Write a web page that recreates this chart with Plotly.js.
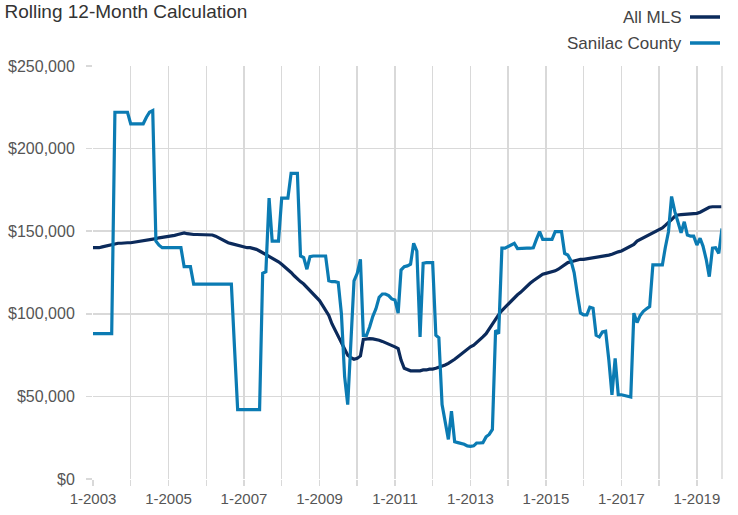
<!DOCTYPE html>
<html>
<head>
<meta charset="utf-8">
<script src="https://cdn.plot.ly/plotly-3.0.1.min.js"></script>
<style>html,body{margin:0;padding:0;background:#fff;}#chart{width:738px;height:515px;}</style>
</head>
<body>
<div id="chart"></div>
<script>
// Monthly series, January 2003 through September 2019
const startYear = 2003;
const seriesNames = ["All MLS", "Sanilac County"];
const allMLS = [
  140,140,140,140.5,141,141.5,142,142.5,142.7,142.7,143,143,
  143,143.3,143.5,144,144,144.5,145,145.3,145.5,146,146.3,146.5,
  146.5,147,147.5,148,148.5,149,148.5,148,148,148,148,148,
  148,148,147.7,147,146,145,144,143,142.5,142,141.5,141,
  140.5,140,140,139.7,139,138,137,136,135,134,133,131.5,
  130,128.5,127,125,123,121,119.5,118,116,114,112,110,
  108,105,102,99,94,90,86,82,78,75,73.5,72.5,
  73,74.5,84.5,85,85,84.8,84.5,84,83.3,82.5,82,81,
  80,79,72,67,66,65.5,65.5,65.5,65.5,66,66,66.5,
  66.5,67,67.5,68,69,70,71,72.5,74,75.5,77,78.5,
  80,81,82.5,84,86,88,91,94,97,99.5,102,104,
  106,108,110,111.5,113,115,117,118.5,120,121.5,123,124,
  124.5,125,125.5,126,127,128.5,130,131,131.5,132,132.5,133,
  133,133.3,133.6,133.8,134,134.2,134.5,135,135.5,136,137,137.5,
  138,139,140,140.5,142,144,145,146,147,148,149,149.7,
  151,152,153.5,155,157,159,159.8,160,160.2,160.4,160.5,160.6,
  160.8,161.5,162.5,163.5,164.5,164.8,164.8,164.8,164.8
];
const sanilac = [
  88,88,88,88,88,88,88,222,222,222,222,222,
  215,215,215,215,215,219,222,223,144,141.5,140,140,
  140,140,140,140,140,128.5,128.5,128.5,118,118,118,118,
  118,118,118,118,118,118,118,118,118,80,42,42,
  42,42,42,42,42,42,124.5,125.5,170,144,144,144,
  170,170,170,185,185,185,135,134,127,134.6,135,135,
  135,135,135,120,119.5,119.5,119,100,62,45,85,120,
  124.5,133,87,87,92,98.5,103,110,112,112,111,109,
  108.4,100.4,126.5,128.5,129,130,142.7,138,86,130.6,131,131,
  131,87,85.5,45,35,24,41,22.5,22,21.5,21,20,
  19.8,20.1,21.8,21.8,22,25.5,27,30,90,88,139.7,139.7,
  140.6,142,142.7,139.5,139.7,139.7,139.7,139.7,140,145,149.7,145,
  145,145,145,149.7,149.7,149.7,136.6,135.6,132,125,112,100.5,
  99.3,99.3,104,103.4,87,86,89,89.5,72,51,73,51,
  51,50.5,50,49.6,100.4,94.7,99,101.5,103,104.4,129.6,129.6,
  129.6,129.6,140,149.7,171,162,155.7,149,155.7,147.7,147,147,
  141.6,145.7,141,133,122.5,139.7,140,136.6,151.7
];
const tickYears = [2003,2004,2005,2006,2007,2008,2009,2010,2011,2012,2013,2014,2015,2016,2017,2018,2019];
const tickLabels = ["1-2003","","1-2005","","1-2007","","1-2009","","1-2011","","1-2013","","1-2015","","1-2017","","1-2019"];

function monthDates(n){
  const out=[];
  for(let i=0;i<n;i++){
    const y=startYear+Math.floor(i/12), m=(i%12)+1;
    out.push(y+"-"+String(m).padStart(2,"0")+"-01");
  }
  return out;
}
const dates = monthDates(allMLS.length);
const tickVals = tickYears.map(y=>y+"-01-01");

const colMLS = "#0b2a5b";
const colSan = "#0b7bb3";
const font = "Liberation Sans Narrow, Arial Narrow, Arial, sans-serif";

const traces = [
  {x: dates, y: allMLS.map(v=>v*1000), name: seriesNames[0], type:"scatter", mode:"lines",
   line:{color:colMLS, width:3.2}},
  {x: dates, y: sanilac.map(v=>v*1000), name: seriesNames[1], type:"scatter", mode:"lines",
   line:{color:colSan, width:3.2}}
];

const layout = {
  width:738, height:515,
  margin:{l:93, r:16, t:66, b:36},
  paper_bgcolor:"#fff", plot_bgcolor:"#fff",
  showlegend:false,
  title:{text:"Rolling 12-Month Calculation", x:0.006, xanchor:"left", y:0.978, yanchor:"middle",
         font:{family:font, size:19, color:"#333"}},
  xaxis:{type:"date", range:[dates[0], dates[dates.length-1]],
         tickvals:tickVals, ticktext:tickLabels,
         showgrid:true, gridcolor:"#d9d9d9", gridwidth:1.5,
         ticks:"outside", ticklen:6, tickcolor:"#d9d9d9", tickwidth:1.5,
         tickfont:{family:font, size:15, color:"#555"},
         showline:false, zeroline:false, fixedrange:true},
  yaxis:{range:[0,250000], dtick:50000, tickprefix:"$", tickformat:",.0f",
         showgrid:true, gridcolor:"#d9d9d9", gridwidth:1.5,
         ticks:"outside", ticklen:6, tickcolor:"#d9d9d9", tickwidth:1.5,
         ticklabelstandoff:8,
         tickfont:{family:font, size:16, color:"#555"},
         showline:false, zeroline:false, fixedrange:true},
  shapes:[
    {type:"line", xref:"paper", yref:"paper", x0:1, x1:1, y0:0, y1:1, line:{color:"#d9d9d9", width:1.5}},
    {type:"line", xref:"paper", yref:"paper", x0:(690-93)/629, x1:(720-93)/629, y0:1+(66-17)/413, y1:1+(66-17)/413, line:{color:colMLS, width:3.5}},
    {type:"line", xref:"paper", yref:"paper", x0:(690-93)/629, x1:(720-93)/629, y0:1+(66-43)/413, y1:1+(66-43)/413, line:{color:colSan, width:3.5}}
  ],
  annotations:[
    {text:seriesNames[0], xref:"paper", yref:"paper", x:(684-93)/629, y:1+(66-17)/413, xanchor:"right", yanchor:"middle", showarrow:false,
     font:{family:font, size:17, color:"#444"}},
    {text:seriesNames[1], xref:"paper", yref:"paper", x:(684-93)/629, y:1+(66-43)/413, xanchor:"right", yanchor:"middle", showarrow:false,
     font:{family:font, size:17, color:"#444"}}
  ]
};

Plotly.newPlot("chart", traces, layout, {displayModeBar:false, staticPlot:true});
</script>
</body>
</html>
